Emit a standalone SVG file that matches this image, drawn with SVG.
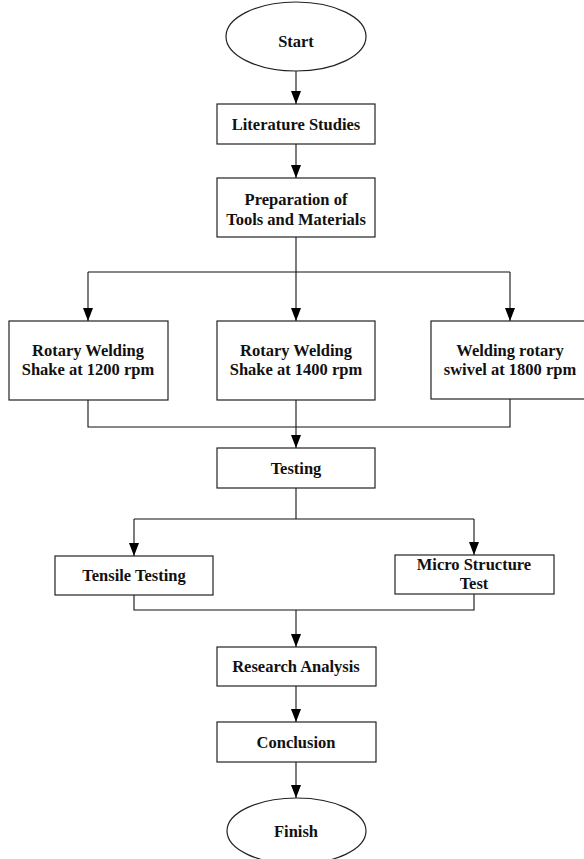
<svg xmlns="http://www.w3.org/2000/svg" width="584" height="859" viewBox="0 0 584 859">
<style>
.box{fill:#fff;stroke:#222;stroke-width:1.2}
.ln{fill:none;stroke:#111;stroke-width:1.1}
.t{font-family:"Liberation Serif","Times New Roman",serif;font-weight:bold;font-size:16.5px;fill:#111;text-anchor:middle}
</style>
<defs>
<marker id="ah" viewBox="0 0 13 10" refX="13" refY="5" markerWidth="13" markerHeight="10" markerUnits="userSpaceOnUse" orient="auto">
<path d="M0,0 L13,5 L0,10 z" fill="#000"/>
</marker>
</defs>
<rect width="584" height="859" fill="#fff"/>
<g id="connectors">
<line class="ln" x1="296" y1="71" x2="296" y2="104" marker-end="url(#ah)"/>
<line class="ln" x1="296" y1="144" x2="296" y2="178" marker-end="url(#ah)"/>
<line class="ln" x1="296" y1="237" x2="296" y2="321" marker-end="url(#ah)"/>
<polyline class="ln" points="88,272 510,272"/>
<line class="ln" x1="88" y1="272" x2="88" y2="321" marker-end="url(#ah)"/>
<line class="ln" x1="510" y1="272" x2="510" y2="321" marker-end="url(#ah)"/>
<polyline class="ln" points="88,400 88,427 510,427 510,399"/>
<line class="ln" x1="296" y1="400" x2="296" y2="448" marker-end="url(#ah)"/>
<polyline class="ln" points="296,488 296,519"/>
<polyline class="ln" points="134,519 474,519"/>
<line class="ln" x1="134" y1="519" x2="134" y2="556" marker-end="url(#ah)"/>
<line class="ln" x1="474" y1="519" x2="474" y2="555" marker-end="url(#ah)"/>
<polyline class="ln" points="134,595 134,610 474,610 474,594"/>
<line class="ln" x1="296" y1="610" x2="296" y2="647" marker-end="url(#ah)"/>
<line class="ln" x1="296" y1="686" x2="296" y2="722" marker-end="url(#ah)"/>
<line class="ln" x1="296" y1="762" x2="296" y2="798" marker-end="url(#ah)"/>
</g>
<g id="start">
<ellipse class="box" cx="296" cy="36.5" rx="70" ry="34.5"/>
<text class="t" x="296" y="47">Start</text>
</g>
<g id="literature">
<rect class="box" x="217" y="104" width="158" height="40"/>
<text class="t" x="296" y="130">Literature Studies</text>
</g>
<g id="preparation">
<rect class="box" x="217" y="178" width="158" height="59"/>
<text class="t" x="296" y="205">Preparation of</text>
<text class="t" x="296" y="225">Tools and Materials</text>
</g>
<g id="rpm1200">
<rect class="box" x="9" y="321" width="159" height="79"/>
<text class="t" x="88" y="356">Rotary Welding</text>
<text class="t" x="88" y="375">Shake at 1200 rpm</text>
</g>
<g id="rpm1400">
<rect class="box" x="217" y="321" width="158" height="79"/>
<text class="t" x="296" y="356">Rotary Welding</text>
<text class="t" x="296" y="375">Shake at 1400 rpm</text>
</g>
<g id="rpm1800">
<rect class="box" x="431" y="321" width="158" height="78"/>
<text class="t" x="510" y="356">Welding rotary</text>
<text class="t" x="510" y="375">swivel at 1800 rpm</text>
</g>
<g id="testing">
<rect class="box" x="217" y="448" width="158" height="40"/>
<text class="t" x="296" y="474">Testing</text>
</g>
<g id="tensile">
<rect class="box" x="55" y="556" width="158" height="39"/>
<text class="t" x="134" y="581">Tensile Testing</text>
</g>
<g id="micro">
<rect class="box" x="395" y="555" width="159" height="39"/>
<text class="t" x="474" y="570">Micro Structure</text>
<text class="t" x="474" y="589">Test</text>
</g>
<g id="analysis">
<rect class="box" x="217" y="647" width="159" height="39"/>
<text class="t" x="296" y="672">Research Analysis</text>
</g>
<g id="conclusion">
<rect class="box" x="217" y="722" width="159" height="40"/>
<text class="t" x="296" y="748">Conclusion</text>
</g>
<g id="finish">
<ellipse class="box" cx="296.5" cy="831" rx="69.5" ry="33"/>
<text class="t" x="296" y="837">Finish</text>
</g>
</svg>
